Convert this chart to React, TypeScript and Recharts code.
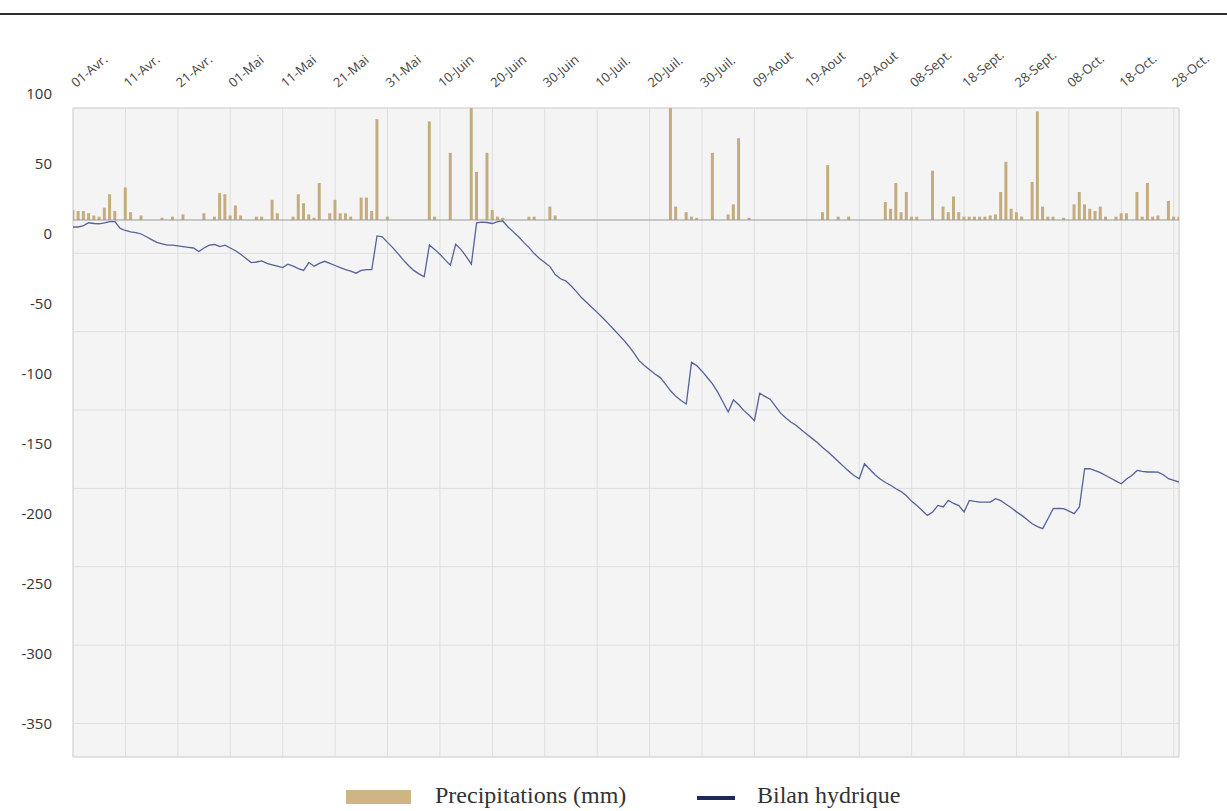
import React from 'react';
import {
  ComposedChart,
  Bar,
  Line,
  XAxis,
  YAxis,
  CartesianGrid,
  ReferenceLine,
  ReferenceArea,
} from 'recharts';

// Tick labels of the date axis (one every 10 days, starting 01-Avr.)
const tickLabels = [
  '01-Avr.', '11-Avr.', '21-Avr.', '01-Mai', '11-Mai', '21-Mai', '31-Mai',
  '10-Juin', '20-Juin', '30-Juin', '10-Juil.', '20-Juil.', '30-Juil.',
  '09-Aout', '19-Aout', '29-Aout', '08-Sept.', '18-Sept.', '28-Sept.',
  '08-Oct.', '18-Oct.', '28-Oct.',
];

// Daily precipitation (mm), 01-Avr. -> 29-Oct.
const precipitations = [
  9, 8, 8, 6, 4, 3, 11, 23, 8, 0,
  29, 7, 0, 4, 0, 0, 0, 2, 0, 3,
  0, 5, 0, 0, 0, 6, 0, 3, 24, 23,
  4, 13, 4, 0, 0, 3, 3, 0, 18, 6,
  0, 0, 3, 23, 15, 5, 2, 33, 0, 6,
  18, 6, 6, 3, 0, 20, 20, 8, 90, 0,
  3, 0, 0, 0, 0, 0, 0, 0, 88, 3,
  0, 0, 60, 0, 0, 0, 100, 43, 0, 60,
  9, 3, 2, 0, 0, 0, 0, 3, 3, 0,
  0, 12, 4, 0, 0, 0, 0, 0, 0, 0,
  0, 0, 0, 0, 0, 0, 0, 0, 0, 0,
  0, 0, 0, 0, 100, 12, 0, 7, 3, 2,
  0, 0, 60, 0, 0, 5, 14, 73, 0, 2,
  0, 0, 0, 0, 0, 0, 0, 0, 0, 0,
  0, 0, 0, 7, 49, 0, 3, 0, 3, 0,
  0, 0, 0, 0, 0, 16, 10, 33, 7, 25,
  3, 3, 0, 0, 44, 0, 12, 7, 21, 7,
  3, 3, 3, 3, 3, 4, 5, 25, 52, 10,
  7, 3, 0, 34, 97, 12, 3, 3, 0, 2,
  0, 14, 25, 14, 10, 8, 12, 3, 0, 3,
  6, 6, 0, 25, 3, 33, 3, 4, 0, 17,
  3, 3,
];

// Daily water balance (Bilan hydrique)
const bilanHydrique = [
  5, 5, 6, 8, 7.5, 7.3, 8, 8.8, 8.8, 4,
  2.5, 1.5, 1, 0, -2, -4, -6, -7, -8, -8,
  -8.5, -9, -9.5, -10, -12.5, -10, -8, -7.5, -9, -8,
  -10, -12, -14.5, -17.5, -20.4, -20, -19.2, -21, -22, -23,
  -24, -21.6, -23, -24.7, -26, -20.4, -23, -21, -19.5, -21,
  -22.5, -24, -25.5, -26.5, -28, -26, -25.5, -25.5, -1.4, -2,
  -6, -9.7, -14, -18.5, -22.5, -26, -28.5, -30.6, -7.8, -11,
  -14.5, -18.5, -22.3, -7.4, -11, -16, -21.6, 8, 8.5, 8.2,
  7.5, 8.8, 9.3, 5, 1.5, -2, -6, -9.7, -14, -17.5,
  -20.4, -23.3, -29, -32, -33.5, -37, -41, -45.4, -49, -52.5,
  -56, -59.6, -63.5, -67.5, -71.5, -75.5, -80, -85, -90.5, -94,
  -97, -100, -102.4, -107, -112, -116, -119, -121.4, -91.7, -94,
  -98, -102.5, -107, -113, -120, -127.2, -118.5, -122, -126.2, -129.5,
  -133.3, -113.8, -116, -118, -123, -128, -131.5, -134.5, -136.8, -140,
  -143, -146, -149, -152.5, -155.5, -159, -162.5, -166, -169.5, -172.5,
  -174.8, -164.1, -168, -172, -175, -177.5, -179.5, -182, -184, -187,
  -191, -194, -197.5, -201, -198.6, -193.9, -195, -190.3, -192.5, -194,
  -198.6, -190.3, -191, -191.5, -191.5, -191.5, -189.1, -190.5, -193, -195.5,
  -198.5, -201, -204, -207, -209, -210.5, -203.4, -196.2, -196, -196.2,
  -198, -199.8, -195, -167.7, -167.7, -169, -170.5, -172.5, -174.5, -176.5,
  -178.4, -175, -172.5, -168.9, -169.5, -170, -170, -170.1, -172, -174.8,
  -176, -177.2,
];

const bilanTicks = [100, 50, 0, -50, -100, -150, -200, -250, -300, -350];
const gridTicks = [0, -1, -2, -3, -4, -5, -6];

const days = precipitations.map((_, i) => i);
const data = days.map((d) => ({
  day: d,
  precip: precipitations[d],
  bilan: bilanHydrique[d],
}));
const xTicks = tickLabels.map((_, i) => i * 10);
const labelByDay: Record<number, string> = {};
xTicks.forEach((d, i) => {
  labelByDay[d] = tickLabels[i];
});

const XTick = (props: any) => {
  const { x, y, payload } = props;
  const tx = x + 3;
  const ty = y - 12;
  return (
    <text
      x={tx}
      y={ty}
      transform={`rotate(-40, ${tx}, ${ty})`}
      textAnchor="start"
      fontSize={13}
      fill="#444"
      fontFamily="'Open Sans', sans-serif"
    >
      {labelByDay[payload.value]}
    </text>
  );
};

export default function App() {
  return (
    <div
      style={{
        position: 'absolute',
        left: 0,
        top: 0,
        width: 1227,
        height: 811,
        background: '#fff',
        overflow: 'hidden',
      }}
    >
      <div
        style={{
          position: 'absolute',
          left: 0,
          top: 13,
          width: 1227,
          height: 2,
          background: '#2e2e2e',
        }}
      />
      <div style={{ position: 'absolute', left: 0, top: 0 }}>
        <ComposedChart
          width={1227}
          height={811}
          data={data}
          margin={{ top: 78, right: 48, bottom: 54, left: 13 }}
        >
          <CartesianGrid
            yAxisId="grid"
            fill="#f4f4f4"
            stroke="#dedede"
            strokeWidth={1}
          />
          <XAxis
            dataKey="day"
            type="number"
            orientation="top"
            domain={[0, 211]}
            ticks={xTicks}
            height={30}
            axisLine={false}
            tickLine={false}
            tick={<XTick />}
            interval={0}
            allowDataOverflow
          />
          <YAxis
            yAxisId="bilan"
            orientation="left"
            width={60}
            domain={[-373.6, 90]}
            ticks={bilanTicks}
            allowDataOverflow
            axisLine={false}
            tickLine={false}
            tickMargin={15}
            interval={0}
            tick={{ fontSize: 15, fill: '#333', fontFamily: "'Open Sans', sans-serif" }}
          />
          <YAxis
            yAxisId="precip"
            orientation="right"
            hide
            domain={[-479.5, 100]}
            allowDataOverflow
          />
          <YAxis
            yAxisId="grid"
            orientation="right"
            hide
            domain={[-6.428, 1.855]}
            ticks={gridTicks}
            allowDataOverflow
          />
          <ReferenceArea
            yAxisId="bilan"
            x1={0}
            x2={211}
            y1={-373.6}
            y2={90}
            fill="none"
            fillOpacity={0}
            stroke="#d6d6d6"
            ifOverflow="visible"
          />
          <ReferenceLine yAxisId="precip" y={0} stroke="#9a9a9a" strokeWidth={1} />
          <Bar
            yAxisId="precip"
            dataKey="precip"
            fill="#c4ac7e"
            barSize={3}
            isAnimationActive={false}
          />
          <Line
            yAxisId="bilan"
            dataKey="bilan"
            type="linear"
            stroke="#56619a"
            strokeWidth={1.3}
            dot={false}
            activeDot={false}
            isAnimationActive={false}
          />
        </ComposedChart>
      </div>
      <div
        style={{
          position: 'absolute',
          left: 346,
          top: 790,
          width: 65,
          height: 14,
          background: '#cdb585',
        }}
      />
      <div
        style={{
          position: 'absolute',
          left: 435,
          top: 783,
          fontFamily: "'Liberation Serif', serif",
          fontSize: 24,
          lineHeight: '24px',
          color: '#333',
          whiteSpace: 'nowrap',
        }}
      >
        Precipitations (mm)
      </div>
      <div
        style={{
          position: 'absolute',
          left: 697,
          top: 796,
          width: 38,
          height: 4,
          background: '#1f2b57',
        }}
      />
      <div
        style={{
          position: 'absolute',
          left: 757,
          top: 783,
          fontFamily: "'Liberation Serif', serif",
          fontSize: 24,
          lineHeight: '24px',
          color: '#333',
          whiteSpace: 'nowrap',
        }}
      >
        Bilan hydrique
      </div>
    </div>
  );
}
